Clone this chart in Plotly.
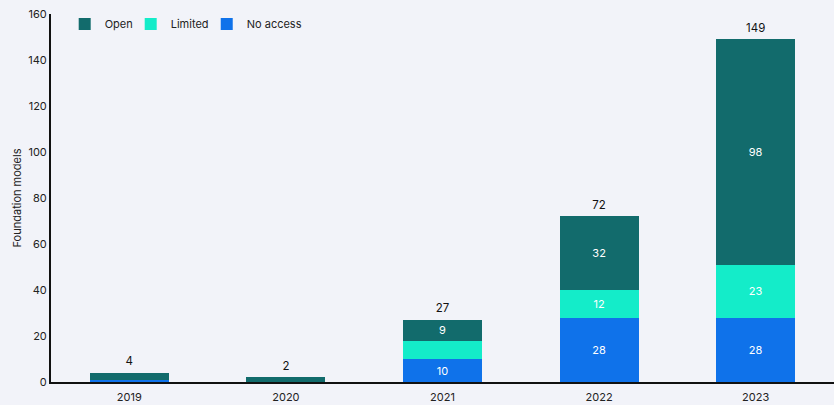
import plotly.graph_objects as go

years = ["2019", "2020", "2021", "2022", "2023"]
no_access = [1, 0, 10, 28, 28]
limited = [0, 0, 8, 12, 23]
open_models = [3, 2, 9, 32, 98]
totals = [4, 2, 27, 72, 149]

colors = {"Open": "#126b6c", "Limited": "#14ecc9", "No access": "#0f72ea"}
label_min = 9


def seg_text(vals):
    return [str(v) if v >= label_min else "" for v in vals]


# each series gets its own legend box so the entries can be spaced freely
series = [("No access", no_access, "legend3"),
          ("Limited", limited, "legend2"),
          ("Open", open_models, "legend")]

fig = go.Figure()
for name, vals, leg in series:
    fig.add_trace(go.Bar(
        x=years, y=vals, name=name, marker_color=colors[name],
        marker_line_width=0, legend=leg,
        text=seg_text(vals), textposition="inside", insidetextanchor="middle",
        textfont=dict(color="white", size=11), cliponaxis=False,
    ))

# Stack totals above each bar (transparent markers push the text up a little)
fig.add_trace(go.Scatter(
    x=years, y=totals, mode="markers+text", text=[str(t) for t in totals],
    textposition="top center", textfont=dict(color="#111111", size=11.5),
    marker=dict(size=6, color="rgba(0,0,0,0)"),
    showlegend=False, hoverinfo="skip", cliponaxis=False,
))

legend_common = dict(
    orientation="h", y=1.012, xanchor="left", yanchor="top",
    bgcolor="rgba(0,0,0,0)", font=dict(size=11), itemwidth=30,
)

fig.update_layout(
    width=834, height=405,
    barmode="stack", bargap=0.495,
    paper_bgcolor="#f2f3f9", plot_bgcolor="#f2f3f9",
    margin=dict(l=51, r=0, t=14, b=23),
    font=dict(family="Inter, Roboto, sans-serif", size=11, color="#222222"),
    uniformtext=dict(mode="show", minsize=8),
    legend=dict(x=0.0175, **legend_common),
    legend2=dict(x=0.1018, **legend_common),
    legend3=dict(x=0.1989, **legend_common),
    yaxis=dict(
        range=[0, 160], dtick=20, showgrid=False, zeroline=False,
        showline=True, linecolor="#111111", linewidth=2,
        ticks="", tickfont=dict(size=11),
        title=dict(text="Foundation models", font=dict(size=11), standoff=4),
    ),
    xaxis=dict(
        type="category",
        showline=True, linecolor="#111111", linewidth=2,
        ticks="", tickfont=dict(size=11), showgrid=False,
        ticklabelstandoff=4,
    ),
)

fig.write_html("out.html")
